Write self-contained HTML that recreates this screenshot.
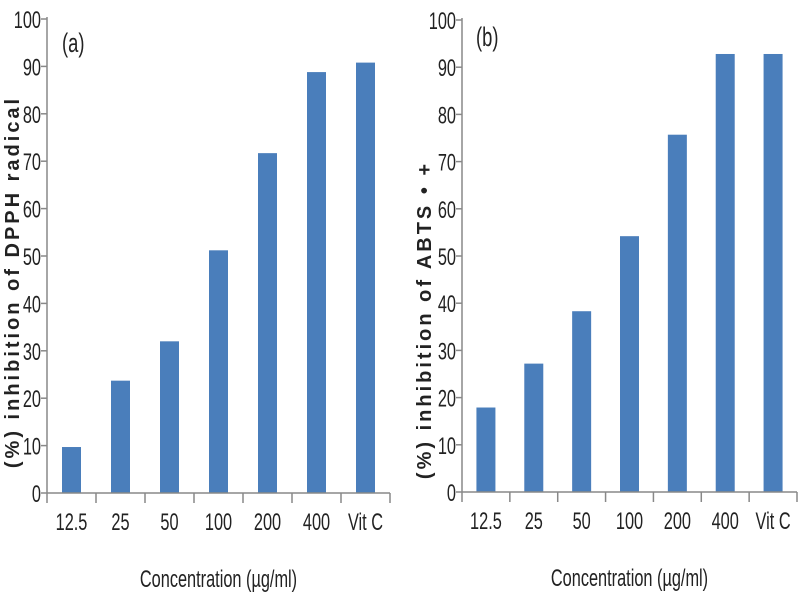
<!DOCTYPE html>
<html><head><meta charset="utf-8"><style>
html,body{margin:0;padding:0;background:#fff;width:800px;height:600px;overflow:hidden}
svg{display:block}
.tk{font-family:"Liberation Sans",sans-serif;font-size:24px;fill:#222}
.yt{font-family:"Liberation Sans",sans-serif;font-size:20px;font-weight:bold;fill:#222;letter-spacing:3px}
</style></head><body>
<svg id="c" width="800" height="600"></svg>
<script>
const categories = ["12.5","25","50","100","200","400","Vit C"];
const dpphValues = [9.7, 23.7, 32, 51.2, 71.7, 88.8, 90.8];
const abtsValues = [17.9, 27.2, 38.3, 54.2, 75.7, 92.8, 92.8];
const yTicks = [0,10,20,30,40,50,60,70,80,90,100];

const NS = "http://www.w3.org/2000/svg";
const svg = document.getElementById('c');
function mk(tag, attrs, parent){
  const e = document.createElementNS(NS, tag);
  for (const k in attrs) e.setAttribute(k, attrs[k]);
  (parent||svg).appendChild(e);
  return e;
}
function ntext(g, x, y, anchor, str, size){
  const t = mk('text', {x:0, y:0, 'text-anchor':anchor, class:'tk', transform:'translate(' + x + ',' + y + ') scale(0.68,1)'}, g);
  if (size) t.style.fontSize = size + 'px';
  t.textContent = str;
  return t;
}
function panel(cfg){
  const g = mk('g', {});
  
  
  const yScale = v => cfg.y0 - (v/100)*(cfg.y0 - cfg.y100);
  const bw = (cfg.x1 - cfg.x0)/categories.length;
  const xCenter = i => cfg.x0 + bw*(i+0.5);
  yTicks.forEach(t => {
    const y = yScale(t);
    const l = mk('line', {x1:cfg.x0-6, x2:cfg.x0, y1:y, y2:y, stroke:'#888', 'stroke-width':1.5}, g);
    
    
    const tx = ntext(g, cfg.x0-6, y+9, 'end', t);
    
    
  });
  cfg.values.forEach((v,i) => {
    const y = yScale(v);
    const r = mk('rect', {x:xCenter(i)-9.5, y:y, width:19, height:cfg.y0-y, fill:'#4a7ebb'}, g);
    
    
  });
  const ya = mk('line', {x1:cfg.x0, x2:cfg.x0, y1:cfg.y100-2, y2:cfg.y0, stroke:'#888', 'stroke-width':1.5}, g);
  
  
  const xa = mk('line', {x1:cfg.x0, x2:cfg.x1, y1:cfg.y0, y2:cfg.y0, stroke:'#888', 'stroke-width':1.5}, g);
  
  
  for (let i=0;i<=categories.length;i++){
    const x = cfg.x0 + bw*i;
    const l = mk('line', {x1:x, x2:x, y1:cfg.y0, y2:cfg.y0+10, stroke:'#888', 'stroke-width':1.5}, g);
    
    
  }
  categories.forEach((c,i) => {
    const tx = ntext(g, xCenter(i), cfg.y0+37, 'middle', c);
    
    
  });
  const xt = ntext(g, (cfg.x0+cfg.x1)/2, cfg.y0+94, 'middle', 'Concentration (\u00b5g/ml)');
  
  
  const yt = mk('text', {x:0, y:0, 'text-anchor':'middle', class:'yt', transform:'translate(' + cfg.ytx + ',' + cfg.yty + ') rotate(-90)'}, g);
  yt.textContent = cfg.ytitle;
  
  
  const lb = ntext(g, cfg.lx, cfg.ly, 'start', cfg.label, 27);
  
  
}
panel({name:'panel-a-dpph', values:dpphValues, x0:47, x1:390, y0:493, y100:19,
  ytitle:'(%) inhibition of DPPH radical', ytx:19, yty:282, label:'(a)', lx:62, ly:52});
panel({name:'panel-b-abts', values:abtsValues, x0:462, x1:797, y0:492, y100:20,
  ytitle:'(%) inhibition of ABTS \u2022 +', ytx:431, yty:320, label:'(b)', lx:476, ly:46});
</script>
</body></html>
